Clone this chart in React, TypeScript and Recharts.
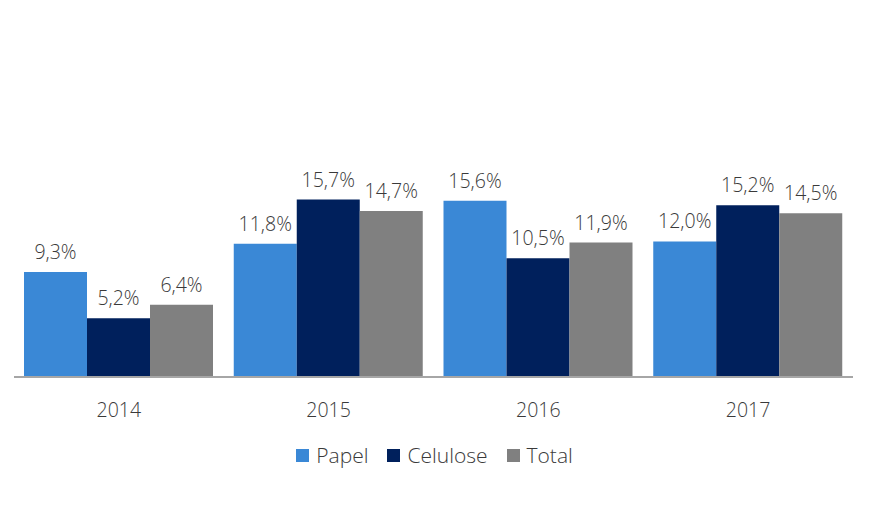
import { BarChart, Bar, XAxis, YAxis, LabelList } from 'recharts';

const YEARS = ['2014', '2015', '2016', '2017'];
const PAPEL = [9.3, 11.8, 15.6, 12.0];
const CELULOSE = [5.2, 15.7, 10.5, 15.2];
const TOTAL = [6.4, 14.7, 11.9, 14.5];

const SERIES = [
  { key: 'papel', name: 'Papel', color: '#3A88D6' },
  { key: 'celulose', name: 'Celulose', color: '#00205C' },
  { key: 'total', name: 'Total', color: '#808080' },
];

const data = YEARS.map((year, i) => ({
  year,
  papel: PAPEL[i],
  celulose: CELULOSE[i],
  total: TOTAL[i],
}));

const FONT = '"Open Sans", "Noto Sans", sans-serif';
const TEXT = '#3A3A3A';

const fmt = (v: any) => Number(v).toFixed(1).replace('.', ',') + '%';

// legend drawn as plain html under the plot so it doesn't eat plot height
const LegendBox = () => (
  <div
    style={{
      position: 'absolute',
      top: 441,
      left: 0,
      width: 869,
      display: 'flex',
      justifyContent: 'center',
      alignItems: 'center',
      fontFamily: FONT,
      fontSize: 21,
      fontWeight: 300,
      color: TEXT,
      gap: 19,
    }}
  >
    {SERIES.map((s) => (
      <div key={s.key} style={{ display: 'flex', alignItems: 'center' }}>
        <span
          style={{
            display: 'inline-block',
            width: 13,
            height: 13,
            background: s.color,
            marginRight: 7,
          }}
        />
        <span>{s.name}</span>
      </div>
    ))}
  </div>
);

export default function App() {
  return (
    <div style={{ position: 'absolute', left: 0, top: 0, width: 869, height: 518, background: '#fff' }}>
      <BarChart
        width={869}
        height={518}
        data={data}
        margin={{ top: 151, right: 16, bottom: 111, left: 14 }}
        barCategoryGap={10}
        barGap={0}
      >
        <XAxis
          dataKey="year"
          tickLine={false}
          axisLine={{ stroke: '#A6A6A6', strokeWidth: 2 }}
          tickMargin={20}
          tick={{ fill: TEXT, fontSize: 19.5, fontFamily: FONT, fontWeight: 300 }}
        />
        <YAxis hide domain={[0, 20]} />
        {SERIES.map((s) => (
          <Bar key={s.key} dataKey={s.key} name={s.name} fill={s.color} isAnimationActive={false}>
            <LabelList
              dataKey={s.key}
              position="top"
              offset={13}
              formatter={fmt}
              style={{ fill: TEXT, fontSize: 19.5, fontFamily: FONT, fontWeight: 300 }}
            />
          </Bar>
        ))}
      </BarChart>
      <LegendBox />
    </div>
  );
}
